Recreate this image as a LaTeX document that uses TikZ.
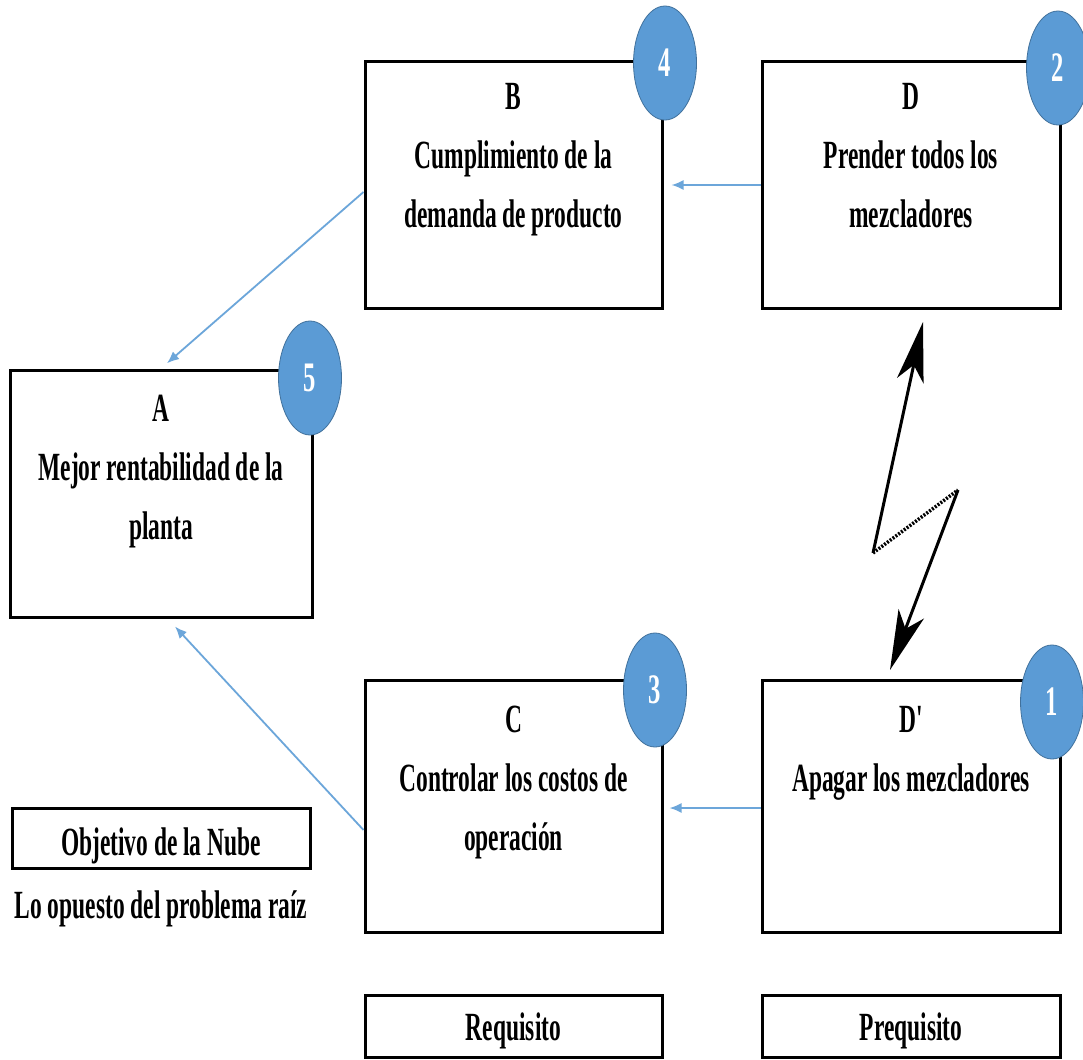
\documentclass[tikz,border=0pt]{standalone}
\usepackage{fontspec}
\setmainfont{Liberation Serif}
\usetikzlibrary{shapes.geometric,arrows.meta}
\definecolor{circfill}{HTML}{5B9BD5}
\definecolor{circline}{HTML}{41719C}
\definecolor{linkblue}{HTML}{6CA6DA}
% condensed bold text block, lines centred, baseline on the first line
\newcommand{\cblock}[1]{\scalebox{0.586}[1]{\begin{tabular}[t]{@{}c@{}}#1\end{tabular}}}
\tikzset{
  box/.style={draw=black, line width=3pt, rectangle, inner sep=0pt},
  txt/.style={inner sep=0pt, anchor=base, font=\bfseries\fontsize{40}{59}\selectfont},
  badge/.style={ellipse, fill=circfill, draw=circline, line width=0.8pt,
    minimum width=63pt, minimum height=114pt, inner sep=0pt, text=white,
    font=\bfseries\fontsize{42}{48}\selectfont},
  link/.style={draw=linkblue, line width=1.8pt, -{Latex[length=12pt,width=10pt]}},
  bolt/.style={draw=black, line width=3pt},
  bolthead/.style={-{Stealth[length=60pt,width=27pt,inset=16pt]}}
}
\begin{document}
\begin{tikzpicture}[x=1pt,y=-1pt]
\useasboundingbox[fill=white] (0,0) rectangle (1083,1059);

% boxes of the cloud
\node[box, minimum width=297pt, minimum height=246pt] (B)  at (513.5,185) {};
\node[box, minimum width=298pt, minimum height=246pt] (D)  at (911,185) {};
\node[box, minimum width=302pt, minimum height=247pt] (A)  at (161,493.5) {};
\node[box, minimum width=297pt, minimum height=252pt] (C)  at (513.5,806) {};
\node[box, minimum width=298pt, minimum height=252pt] (Dp) at (911,806) {};
\node[box, minimum width=298pt, minimum height=60pt]  (obj) at (161,838) {};
\node[box, minimum width=297pt, minimum height=62pt]  (req) at (513.5,1026) {};
\node[box, minimum width=298pt, minimum height=62pt]  (preq) at (911,1026) {};

% texts
\node[txt] (tB) at (513.5,110) {\cblock{B\\Cumplimiento de la\\demanda de producto}};
\node[txt] (tD) at (911,110) {\cblock{D\\Prender todos los\\mezcladores}};
\node[txt] (tA) at (161,421) {\cblock{A\\Mejor rentabilidad de la\\planta}};
\node[txt] (tC) at (513.5,732) {\cblock{C\\Controlar los costos de\\operación}};
\node[txt] (tDp) at (911,732) {\cblock{D\textquotesingle\\Apagar los mezcladores}};
\node[txt] (tobj) at (161,855) {\cblock{Objetivo de la Nube}};
\node[txt] (topp) at (161,918) {\cblock{Lo opuesto del problema raíz}};
\node[txt] (treq) at (513.5,1040) {\cblock{Requisito}};
\node[txt] (tpreq) at (911,1040) {\cblock{Prequisito}};

% numbered badges
\node[badge] (n4) at (665,63) {\scalebox{0.586}[1]{4}};
\node[badge] (n2) at (1058,68) {\scalebox{0.586}[1]{2}};
\node[badge] (n5) at (310,378) {\scalebox{0.586}[1]{5}};
\node[badge] (n3) at (655,690) {\scalebox{0.586}[1]{3}};
\node[badge] (n1) at (1052,702) {\scalebox{0.586}[1]{1}};

% necessity links
\draw[link, shorten >=8pt] (D.west) -- (B.east);
\draw[link, shorten >=8pt] ([yshift=-7pt]B.west) -- (A.north);
\draw[link] ([yshift=-24pt]C.west) -- ([xshift=14pt,yshift=-8pt]A.south);
\draw[link, shorten >=6pt] ([yshift=-2pt]Dp.west) -- ([yshift=-2pt]C.east);

% conflict bolt between D and D'
\coordinate (zTop) at (923,322);
\coordinate (zLeft) at (873,553);
\coordinate (zRight) at (958,490);
\coordinate (zBot) at (890,670);
\draw[bolt, bolthead] (zLeft) -- (zTop);
\draw[bolt, line width=3.5pt, dash pattern=on 2pt off 1.5pt] (zLeft) -- (zRight);
\draw[bolt, bolthead] (zRight) -- (zBot);
\end{tikzpicture}
\end{document}
